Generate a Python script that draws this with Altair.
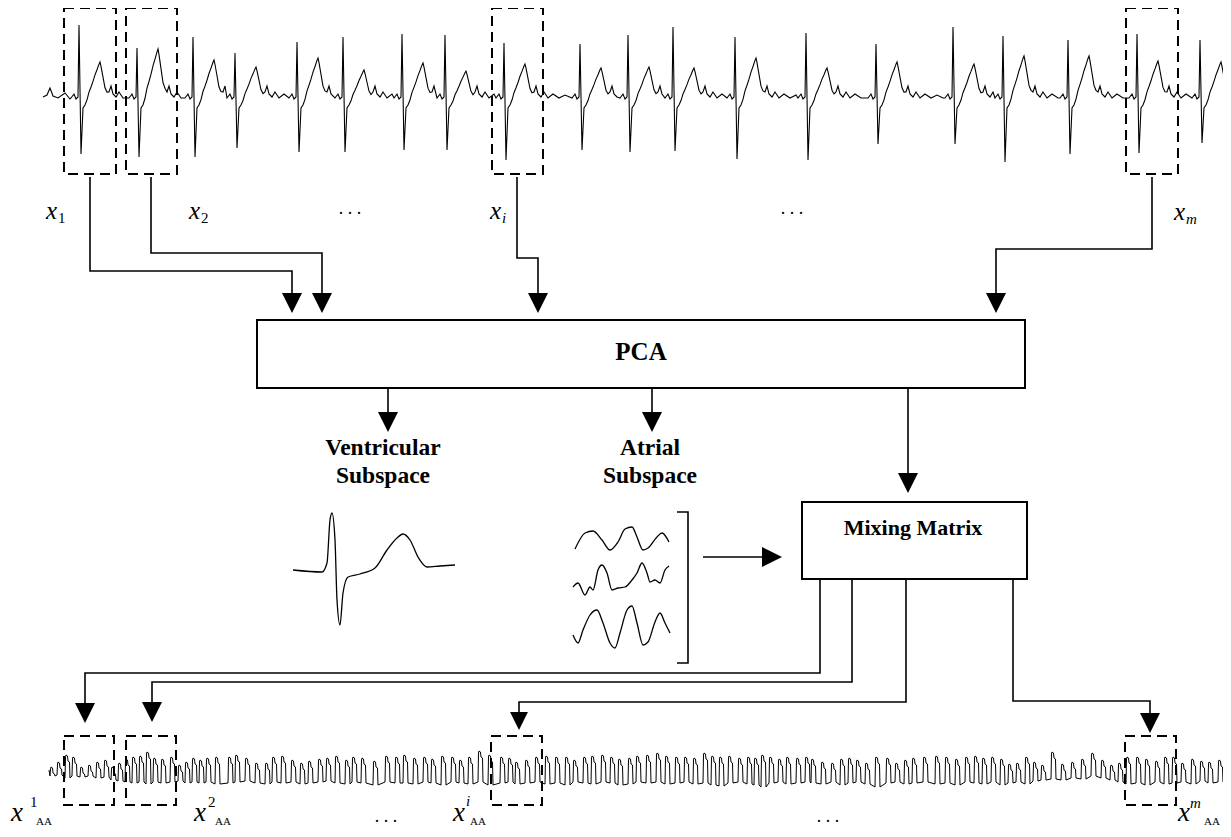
import altair as alt
import pandas as pd

# ---------------- values ----------------
# Raw ECG (top trace): R-peak positions and wave levels per beat
beat_x = [79, 137, 193, 235, 297, 343, 402, 445, 504, 580, 628, 673, 735, 806, 876, 953, 1003, 1068, 1137, 1200]
r_top = [25, 48, 37, 53, 42, 37, 34, 35, 43, 44, 35, 27, 37, 33, 44, 27, 36, 40, 34, 40]
s_bot = [154, 157, 157, 148, 152, 152, 150, 150, 160, 150, 152, 151, 159, 160, 144, 144, 162, 154, 153, 143]
t_top = [62, 49, 60, 67, 58, 70, 63, 71, 64, 68, 67, 68, 58, 68, 62, 64, 56, 56, 61, 62]
lead_in_x = [43, 47, 50, 53, 58, 65, 70]
lead_in_y = [97, 95, 88, 96, 98, 93, 99]
ECG_BASE = 97
# beat shape: (offset from R, kind, value)  b = baseline offset, t = fraction of T wave
beat_shape = [(-8, 'b', 1), (-5, 'b', -3), (-3, 'b', 2), (-1, 'b', 0), (0, 'R', 0), (2, 'S', 0),
              (4, 'b', 11), (6, 'b', 8), (8, 't', 0.12), (10, 't', 0.3), (12, 't', 0.42), (14, 't', 0.55),
              (16, 't', 0.7), (18, 't', 0.82), (20, 't', 0.95), (21, 't', 1.0), (22, 't', 0.9),
              (24, 't', 0.65), (26, 't', 0.4), (28, 't', 0.3), (30, 'b', -5), (32, 'b', -11),
              (34, 'b', -3), (37, 'b', 0), (40, 'b', -5), (44, 'b', 1), (49, 'b', -3), (55, 'b', 1),
              (61, 'b', -2), (67, 'b', 1)]

# Atrial activity (bottom trace): oscillation peaks and troughs
aa_peak_x = [52, 59, 67, 74, 82, 90, 98, 106, 113, 120, 127, 134, 141, 148, 155, 163, 172, 180, 187, 194,
             201, 208, 217, 230, 237, 247, 257, 267, 274, 283, 293, 302, 310, 320, 328, 337, 347, 354, 363, 375,
             387, 397,
             405, 415, 425, 433, 443, 453, 461, 470, 480, 490, 502, 510, 517, 527, 537, 547, 557, 567, 575, 585,
             593, 603, 612, 620, 630, 638, 648, 658, 667, 677, 686, 695, 705, 713, 721, 730, 740, 749, 756, 763,
             771, 780, 788, 798, 807,
             813, 823, 833, 842, 850, 858, 867, 877, 888, 897, 906, 914, 925, 937, 947, 957, 967, 976, 984, 993,
             1002, 1010, 1018, 1027, 1035, 1043, 1053, 1063, 1073, 1083, 1093, 1103, 1112, 1120, 1128, 1138,
             1147, 1157, 1166, 1174, 1183, 1193, 1202, 1210, 1220, 1227]
aa_peak_y = [767, 762, 755, 757, 767, 765, 762, 760, 767, 763, 759, 757, 756, 752, 758, 759, 757, 765, 762, 758,
             760, 758, 757, 757, 755, 758, 763, 763, 757, 756, 760, 763, 761, 759, 758, 756, 760, 757, 758, 761,
             756, 757,
             755, 758, 757, 759, 756, 757, 760, 757, 751, 755, 757, 758, 762, 760, 757, 756, 757, 757, 760, 757,
             756, 755, 757, 759, 758, 756, 755, 753, 756, 757, 757, 758, 753, 756, 757, 756, 758, 757, 758, 755,
             757, 759, 757, 758, 757,
             759, 762, 763, 759, 758, 760, 763, 757, 758, 763, 760, 758, 757, 756, 757, 759, 757, 756, 758, 757,
             759, 764, 763, 757, 762, 765, 752, 764, 762, 759, 753, 760, 765, 763, 757, 757, 759, 761, 757, 757,
             763, 759, 761, 762, 760, 763]
aa_trough_y = [776, 775, 778, 776, 777, 776, 778, 777, 780, 781, 782, 783, 782, 784, 782, 783, 782, 781, 783, 782,
               783, 782, 784, 783, 782, 781, 783, 784, 782, 783, 782, 784, 783, 782, 781, 783, 784, 782, 783, 785,
               782, 783,
               783, 784, 782, 783, 785, 782, 783, 784, 782, 785, 783, 782, 784, 783, 782, 784, 783, 785, 782, 783,
               784, 782, 783, 785, 784, 782, 783, 782, 784, 783, 782, 784, 783, 785, 786, 783, 782, 784, 785, 787,
               783, 782, 784, 783, 782,
               783, 784, 782, 785, 783, 782, 784, 787, 783, 782, 784, 783, 782, 784, 783, 785, 782, 783, 784, 782,
               785, 783, 782, 784, 781, 780, 779, 780, 778, 779, 776, 778, 780, 782, 784, 783, 785, 782, 784, 783,
               782, 784, 781, 783, 782, 784]
AA_START = (49, 770)

# Ventricular subspace waveform
vent_x = [293, 322, 327, 330, 332, 335, 337, 340, 343, 348, 360, 375, 387, 397, 403, 410, 418, 427, 440, 455]
vent_y = [570, 572, 563, 520, 513, 540, 600, 625, 593, 577, 574, 568, 550, 538, 534, 540, 557, 567, 566, 565]
# Atrial subspace waveforms
atr1_x = [575, 585, 593, 602, 610, 618, 625, 632, 637, 643, 648, 657, 662, 669]
atr1_y = [549, 533, 531, 540, 550, 542, 529, 527, 537, 550, 548, 537, 533, 542]
atr2_x = [573, 578, 585, 590, 593, 598, 602, 607, 612, 618, 625, 632, 637, 642, 647, 650, 655, 660, 665, 669]
atr2_y = [587, 583, 595, 587, 590, 570, 565, 573, 590, 588, 587, 580, 573, 563, 573, 582, 580, 583, 570, 566]
atr3_x = [573, 578, 583, 590, 597, 603, 610, 615, 620, 627, 632, 637, 643, 648, 655, 660, 665, 670]
atr3_y = [635, 643, 630, 615, 610, 623, 643, 648, 633, 610, 606, 623, 645, 642, 622, 613, 623, 633]

# ---------------- diagram layout ----------------
top_boxes = [(64, 116), (126, 177), (492, 543), (1126, 1178)]
TOP_BOX_Y = (8, 174)
bot_boxes = [(64, 114), (126, 176), (491, 542), (1125, 1176)]
BOT_BOX_Y = (736, 805)
blocks = [("PCA", 257, 1025, 320, 388), ("Mixing Matrix", 802, 1027, 502, 579)]

connectors = [
    [(90, 177), (90, 271), (292, 271), (292, 303)],
    [(151, 177), (151, 253), (322, 253), (322, 303)],
    [(517, 177), (517, 258), (538, 258), (538, 303)],
    [(1152, 177), (1152, 249), (996, 249), (996, 303)],
    [(388, 389), (388, 422)],
    [(652, 389), (652, 422)],
    [(908, 389), (908, 483)],
    [(703, 557), (772, 557)],
    [(820, 579), (820, 673), (85, 673), (85, 713)],
    [(852, 579), (852, 682), (152, 682), (152, 712)],
    [(906, 579), (906, 702), (519, 702), (519, 721)],
    [(1013, 579), (1013, 701), (1150, 701), (1150, 723)],
    [(677, 512), (688, 512), (688, 663), (677, 663)],
]
down_heads = [(292, 303, 400), (322, 303, 400), (538, 303, 400), (996, 303, 400), (388, 422, 400),
              (652, 422, 400), (908, 483, 400), (85, 713, 400), (152, 712, 400), (519, 721, 320),
              (1150, 723, 400)]
right_heads = [(772, 557, 400)]

bold_labels = [("PCA", 641, 352, 25), ("Ventricular", 383, 448, 23.5), ("Subspace", 383, 476, 23.5),
               ("Atrial", 650, 448, 23.5), ("Subspace", 650, 476, 23.5), ("Mixing Matrix", 913, 528, 22)]
italic_labels = [("x", 46, 219, 25), ("x", 189, 219, 25), ("x", 490, 219, 25), ("i", 502, 223, 15),
                 ("x", 1174, 220, 25), ("m", 1186, 224, 15),
                 ("x", 11, 821, 27), ("x", 194, 821, 27), ("x", 453, 821, 27), ("i", 466, 806, 15),
                 ("x", 1178, 821, 27), ("m", 1190, 808, 15)]
roman_labels = [("1", 58, 223, 15), ("2", 201, 223, 15),
                ("1", 30, 807, 15), ("AA", 36, 825, 11), ("2", 208, 807, 15), ("AA", 215, 825, 11),
                ("AA", 470, 825, 11), ("AA", 1204, 825, 11)]
dots = [(350, 214), (792, 214), (386, 822), (828, 822)]

# ---------------- build tables ----------------
ecg_pts = list(zip(lead_in_x, lead_in_y))
for k, r in enumerate(beat_x):
    nxt = beat_x[k + 1] if k + 1 < len(beat_x) else 1237
    for dx, kind, v in beat_shape:
        x = r + dx
        if dx > 0 and x >= nxt - 9:
            continue
        if x > 1228:
            continue
        if kind == 'R':
            y = r_top[k]
        elif kind == 'S':
            y = s_bot[k]
        elif kind == 't':
            y = 105 + v * (t_top[k] - 105)
        else:
            y = ECG_BASE + v
        ecg_pts.append((x, y))
ecg_df = pd.DataFrame([{"x": x, "y": y, "o": i} for i, (x, y) in enumerate(ecg_pts)])

aa_pts = [AA_START]
for px, py, ty in zip(aa_peak_x, aa_peak_y, aa_trough_y):
    aa_pts += [(px - 2, ty), (px - 1.5, py + 2), (px - 1, py), (px + 0.5, py + 1), (px + 1, py + 6),
               (px + 2.5, py + 7), (px + 3, ty)]
aa_df = pd.DataFrame([{"x": x, "y": y, "o": i} for i, (x, y) in enumerate(aa_pts) if x <= 1231])

wave_rows = []
for wid, (xs_, ys_) in enumerate([(vent_x, vent_y), (atr1_x, atr1_y), (atr2_x, atr2_y), (atr3_x, atr3_y)]):
    for i, (x, y) in enumerate(zip(xs_, ys_)):
        wave_rows.append({"w": wid, "o": i, "x": x, "y": y})
wave_df = pd.DataFrame(wave_rows)

conn_rows = []
for cid, path in enumerate(connectors):
    for i, (x, y) in enumerate(path):
        conn_rows.append({"c": cid, "o": i, "x": x, "y": y})
conn_df = pd.DataFrame(conn_rows)

dbox_df = pd.DataFrame([{"x": a, "x2": b, "y": TOP_BOX_Y[0], "y2": TOP_BOX_Y[1]} for a, b in top_boxes] +
                       [{"x": a, "x2": b, "y": BOT_BOX_Y[0], "y2": BOT_BOX_Y[1]} for a, b in bot_boxes])
block_df = pd.DataFrame([{"name": n, "x": a, "x2": b, "y": c, "y2": d} for n, a, b, c, d in blocks])
dh_df = pd.DataFrame([{"x": x, "y": y, "s": s} for x, y, s in down_heads])
rh_df = pd.DataFrame([{"x": x, "y": y, "s": s} for x, y, s in right_heads])
bold_df = pd.DataFrame([{"t": t, "x": x, "y": y, "s": s} for t, x, y, s in bold_labels])
ital_df = pd.DataFrame([{"t": t, "x": x, "y": y, "s": s} for t, x, y, s in italic_labels])
rom_df = pd.DataFrame([{"t": t, "x": x, "y": y, "s": s} for t, x, y, s in roman_labels])
dots_df = pd.DataFrame([{"t": ".   .   .", "x": x, "y": y} for x, y in dots])

# ---------------- chart ----------------
xs = alt.Scale(domain=[8, 1223], nice=False, zero=False)
ys = alt.Scale(domain=[8, 829], nice=False, zero=False, reverse=True)
X = lambda f="x": alt.X(f"{f}:Q", scale=xs, axis=None)
Y = lambda f="y": alt.Y(f"{f}:Q", scale=ys, axis=None)
FONT = "Liberation Serif, Times New Roman, Times, serif"

ecg_line = alt.Chart(ecg_df).mark_line(color="black", strokeWidth=1.1).encode(
    x=X(), y=Y(), order=alt.Order("o:Q"))
aa_line = alt.Chart(aa_df).mark_line(color="black", strokeWidth=1.0).encode(
    x=X(), y=Y(), order=alt.Order("o:Q"))
waves = alt.Chart(wave_df).mark_line(color="black", strokeWidth=1.3, interpolate="monotone").encode(
    x=X(), y=Y(), detail="w:N", order=alt.Order("o:Q"))
conns = alt.Chart(conn_df).mark_line(color="black", strokeWidth=1.6).encode(
    x=X(), y=Y(), detail="c:N", order=alt.Order("o:Q"))
dboxes = alt.Chart(dbox_df).mark_rect(fillOpacity=0, stroke="black", strokeWidth=2,
                                      strokeDash=[10, 6]).encode(x=X(), x2="x2:Q", y=Y(), y2="y2:Q")
bboxes = alt.Chart(block_df).mark_rect(fill="white", fillOpacity=0, stroke="black", strokeWidth=2).encode(
    x=X(), x2="x2:Q", y=Y(), y2="y2:Q")
dheads = alt.Chart(dh_df).mark_point(shape="M-1,-1L1,-1L0,1Z", filled=True, color="black", opacity=1,
                                     strokeWidth=0).encode(x=X(), y=Y(), size=alt.Size("s:Q", scale=None))
rheads = alt.Chart(rh_df).mark_point(shape="M-1,-1L1,0L-1,1Z", filled=True, color="black", opacity=1,
                                     strokeWidth=0).encode(x=X(), y=Y(), size=alt.Size("s:Q", scale=None))
bold_txt = alt.Chart(bold_df).mark_text(font=FONT, fontWeight="bold", align="center", baseline="middle",
                                        color="black").encode(
    x=X(), y=Y(), text="t:N", size=alt.Size("s:Q", scale=None))
ital_txt = alt.Chart(ital_df).mark_text(font=FONT, fontStyle="italic", align="left", baseline="alphabetic",
                                        color="black").encode(
    x=X(), y=Y(), text="t:N", size=alt.Size("s:Q", scale=None))
rom_txt = alt.Chart(rom_df).mark_text(font=FONT, align="left", baseline="alphabetic", color="black").encode(
    x=X(), y=Y(), text="t:N", size=alt.Size("s:Q", scale=None))
dots_txt = alt.Chart(dots_df).mark_text(font=FONT, fontSize=18, align="center", baseline="alphabetic",
                                        color="black").encode(x=X(), y=Y(), text="t:N")

chart = alt.layer(ecg_line, aa_line, waves, conns, dboxes, bboxes, dheads, rheads,
                  bold_txt, ital_txt, rom_txt, dots_txt).properties(
    width=1215, height=821, padding=0, autosize=alt.AutoSizeParams(type="none"),
    background="white").configure_view(stroke=None)

chart.save("out.html", embed_options={"renderer": "svg", "actions": False})
